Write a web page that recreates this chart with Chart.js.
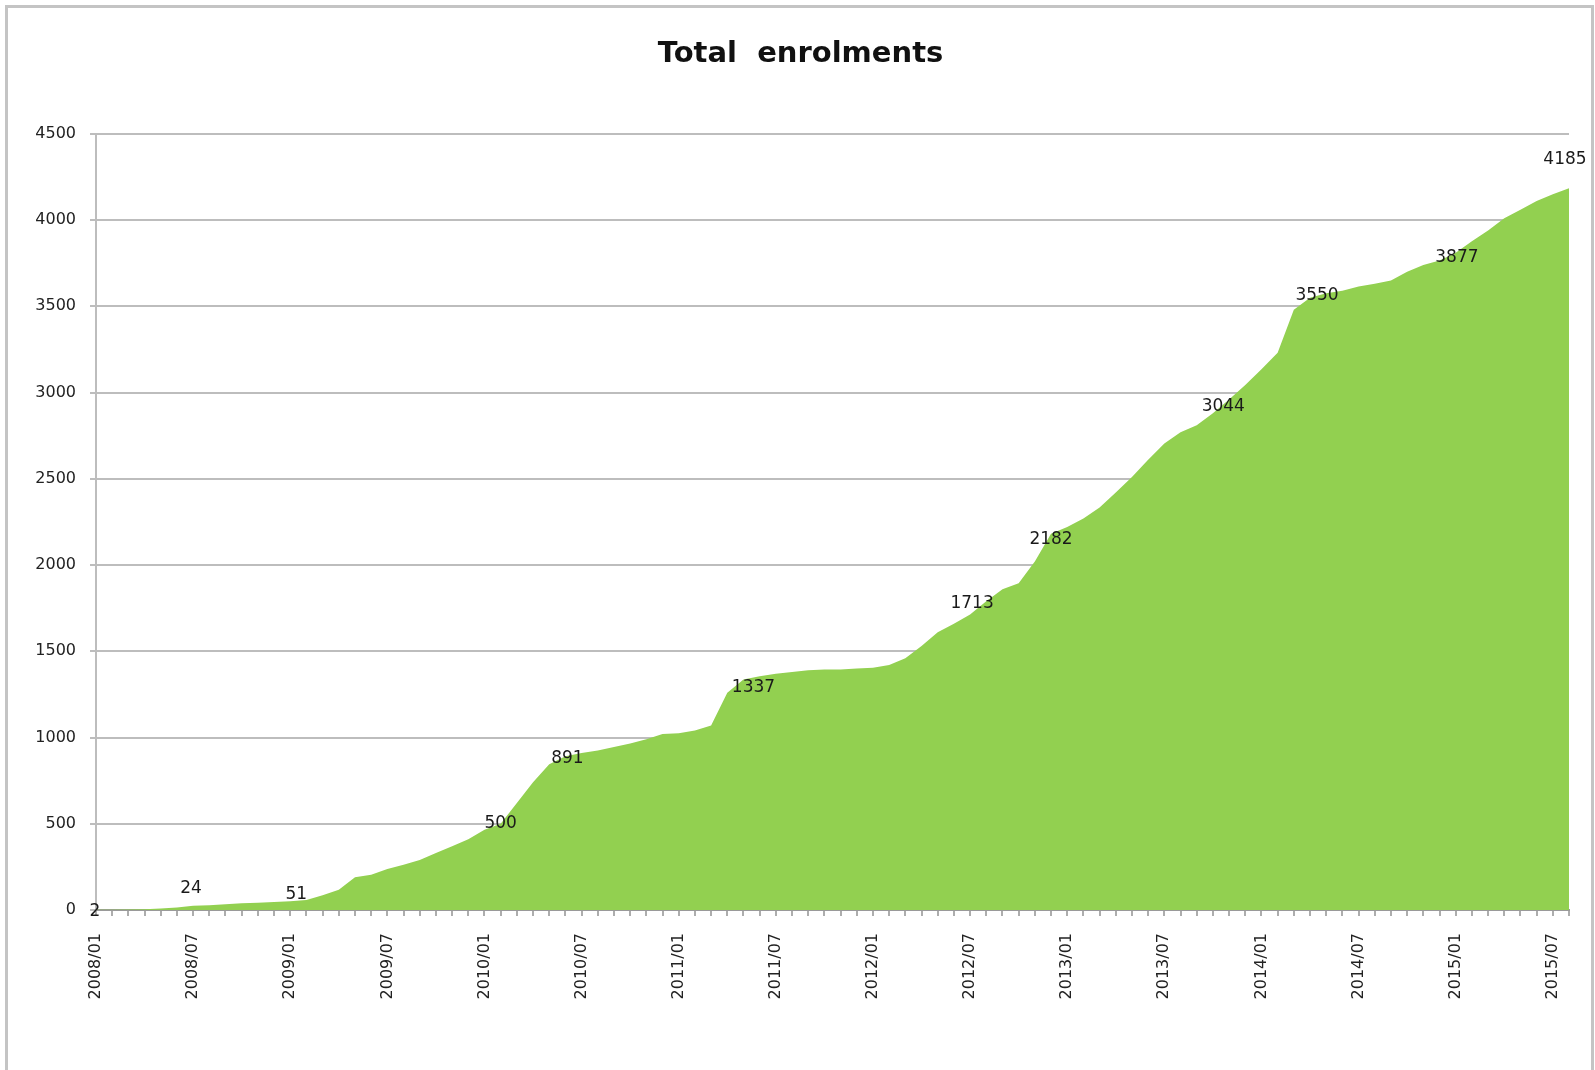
<!DOCTYPE html>
<html>
<head>
<meta charset="utf-8">
<title>Total enrolments</title>
<script src="https://cdn.jsdelivr.net/npm/chart.js@4.4.1/dist/chart.umd.min.js"></script>
<style>
    html, body { margin: 0; padding: 0; background: #fff; }
    #wrap { position: relative; width: 1595px; height: 1070px; overflow: hidden; }
    #frame {
        position: absolute; left: 5px; top: 5px; width: 1583px; height: 1080px;
        border: 3px solid #c4c4c4; border-bottom: none;
    }
    #enrolChart { position: absolute; left: 0; top: 0; }
</style>
</head>
<body>
<div id="wrap">
    <div id="frame"></div>
    <canvas id="enrolChart" width="1595" height="1070"></canvas>
</div>
<script>
// one entry per month, 2008/01 .. 2015/08
const months = [
    '2008/01', '2008/02', '2008/03', '2008/04', '2008/05', '2008/06', '2008/07', '2008/08', '2008/09', '2008/10', '2008/11', '2008/12',
    '2009/01', '2009/02', '2009/03', '2009/04', '2009/05', '2009/06', '2009/07', '2009/08', '2009/09', '2009/10', '2009/11', '2009/12',
    '2010/01', '2010/02', '2010/03', '2010/04', '2010/05', '2010/06', '2010/07', '2010/08', '2010/09', '2010/10', '2010/11', '2010/12',
    '2011/01', '2011/02', '2011/03', '2011/04', '2011/05', '2011/06', '2011/07', '2011/08', '2011/09', '2011/10', '2011/11', '2011/12',
    '2012/01', '2012/02', '2012/03', '2012/04', '2012/05', '2012/06', '2012/07', '2012/08', '2012/09', '2012/10', '2012/11', '2012/12',
    '2013/01', '2013/02', '2013/03', '2013/04', '2013/05', '2013/06', '2013/07', '2013/08', '2013/09', '2013/10', '2013/11', '2013/12',
    '2014/01', '2014/02', '2014/03', '2014/04', '2014/05', '2014/06', '2014/07', '2014/08', '2014/09', '2014/10', '2014/11', '2014/12',
    '2015/01', '2015/02', '2015/03', '2015/04', '2015/05', '2015/06', '2015/07', '2015/08',
];

// cumulative enrolments at each month
const enrolments = [
    2, 2, 3, 4, 8, 15, 24, 28, 34, 39, 42, 46,
    51, 58, 85, 118, 190, 205, 238, 262, 290, 330, 370, 410,
    465, 500, 620, 740, 845, 891, 910, 925, 945, 965, 990, 1020,
    1025, 1040, 1070, 1260, 1337, 1355, 1370, 1380, 1390, 1395, 1395, 1400,
    1405, 1420, 1460, 1530, 1610, 1660, 1713, 1790, 1860, 1895, 2020, 2182,
    2220, 2270, 2334, 2420, 2510, 2610, 2705, 2770, 2810, 2880, 2960, 3044,
    3135, 3230, 3480, 3550, 3575, 3590, 3615, 3630, 3650, 3700, 3740, 3765,
    3810, 3877, 3940, 4010, 4060, 4110, 4150, 4185,
];

// months that carry a value label
const labelledMonths = [
    '2008/01', '2008/07', '2009/01', '2010/02', '2010/06', '2011/05',
    '2012/07', '2012/12', '2013/12', '2014/04', '2015/02', '2015/08',
];

// y axis ticks
const yTicks = [0, 500, 1000, 1500, 2000, 2500, 3000, 3500, 4000, 4500];

// nudges (px) so labels sit where they were placed by hand
const labelNudge = {
    '2008/01': [-1, 2],
    '2008/07': [-2, -17],
    '2009/01': [6, -7],
    '2010/06': [2, 2],
    '2011/05': [10, 8],
    '2012/07': [2, -11],
    '2012/12': [0, 6],
    '2013/12': [-22, 22],
    '2014/04': [7, -2],
    '2015/02': [-15, 16],
    '2015/08': [-4, -29],
};

const FONT = "'DejaVu Sans', Verdana, sans-serif";

const valueLabels = {
    id: 'valueLabels',
    afterDatasetsDraw(chart) {
        const ctx = chart.ctx;
        const meta = chart.getDatasetMeta(0);
        ctx.save();
        ctx.font = '17px ' + FONT;
        ctx.fillStyle = '#1a1a1a';
        ctx.textAlign = 'center';
        ctx.textBaseline = 'middle';
        labelledMonths.forEach(m => {
            const i = months.indexOf(m);
            const pt = meta.data[i];
            const [dx, dy] = labelNudge[m] || [0, 0];
            ctx.fillText(String(enrolments[i]), pt.x + dx, pt.y + dy);
        });
        ctx.restore();
    },
};

new Chart(document.getElementById('enrolChart'), {
    type: 'line',
    data: {
        labels: months,
        datasets: [{
            label: 'Total enrolments',
            data: enrolments,
            fill: 'origin',
            backgroundColor: '#92d050',
            borderWidth: 0,
            pointRadius: 0,
            tension: 0,
        }],
    },
    options: {
        responsive: false,
        animation: false,
        devicePixelRatio: 1,
        layout: { padding: { left: 32, right: 26, top: 0, bottom: 0 } },
        plugins: {
            legend: { display: false },
            tooltip: { enabled: false },
            title: {
                display: true,
                text: 'Total  enrolments',
                color: '#111',
                font: { family: FONT, size: 29, weight: 'bold' },
                padding: { top: 37, bottom: 62 },
            },
        },
        scales: {
            x: {
                type: 'category',
                offset: false,
                afterFit: scale => {
                    scale.height = 160;
                    scale.paddingLeft = 0;
                    scale.paddingRight = 0;
                },
                grid: {
                    drawOnChartArea: false,
                    drawTicks: true,
                    tickLength: 6,
                    color: '#adadad',
                    lineWidth: 2,
                },
                border: { color: '#9a9a9a', width: 2 },
                ticks: {
                    autoSkip: false,
                    maxRotation: 90,
                    minRotation: 90,
                    padding: 17,
                    color: '#222',
                    font: { family: FONT, size: 16 },
                    callback: function (value, index) {
                        const m = months[index];
                        return (m.endsWith('/01') || m.endsWith('/07')) ? m : '';
                    },
                },
            },
            y: {
                min: 0,
                max: 4500,
                afterFit: scale => { scale.width = 64; },
                afterBuildTicks: scale => { scale.ticks = yTicks.map(v => ({ value: v })); },
                grid: { color: '#bdbdbd', lineWidth: 2, tickLength: 6 },
                border: { color: '#bdbdbd', width: 2 },
                ticks: {
                    padding: 14,
                    color: '#222',
                    font: { family: FONT, size: 16 },
                    callback: value => String(value),
                },
            },
        },
    },
    plugins: [valueLabels],
});
</script>
</body>
</html>
